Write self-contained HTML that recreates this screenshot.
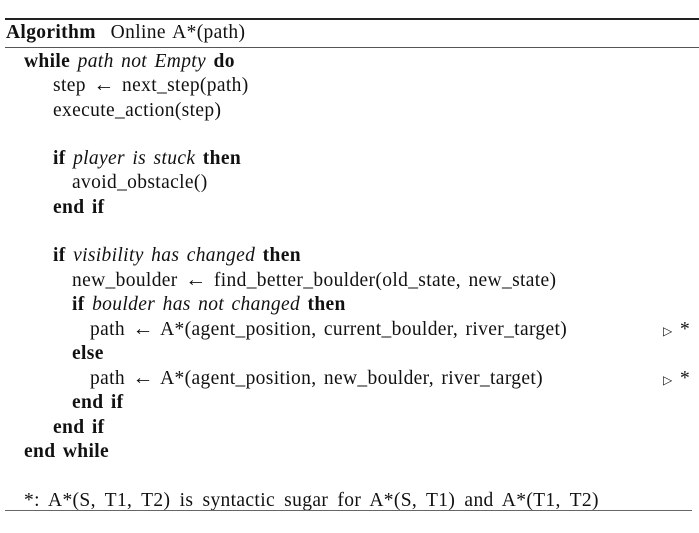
<!DOCTYPE html>
<html><head><meta charset="utf-8"><style>
body{margin:0;background:#fff;width:699px;height:533px;position:relative;overflow:hidden;font-family:"Liberation Serif",serif;font-size:19.5px;letter-spacing:0.35px;word-spacing:2.2px;color:#111}
.l{position:absolute;white-space:nowrap;line-height:20px}
.r{position:absolute;background:#222}
b{font-weight:bold}
.a{font-size:21px;line-height:0;vertical-align:0}
.t{font-size:12px;line-height:0}
</style></head><body>
<div class="r" style="left:5px;top:18px;width:694px;height:2px"></div>
<div class="l" style="left:6px;top:23px"><b>Algorithm</b>&nbsp; Online A*(path)</div>
<div class="r" style="left:5px;top:47px;width:694px;height:1px;background:#555"></div>
<div class="l" style="left:24px;top:52px"><b>while</b> <i>path not Empty</i> <b>do</b></div>
<div class="l" style="left:53px;top:76px">step <span class="a">←</span> next_step(path)</div>
<div class="l" style="left:53px;top:101px">execute_action(step)</div>
<div class="l" style="left:53px;top:149px"><b>if</b> <i>player is stuck</i> <b>then</b></div>
<div class="l" style="left:72px;top:173px">avoid_obstacle()</div>
<div class="l" style="left:53px;top:198px"><b>end if</b></div>
<div class="l" style="left:53px;top:246px"><b>if</b> <i>visibility has changed</i> <b>then</b></div>
<div class="l" style="left:72px;top:271px">new_boulder <span class="a">←</span> find_better_boulder(old_state, new_state)</div>
<div class="l" style="left:72px;top:295px"><b>if</b> <i>boulder has not changed</i> <b>then</b></div>
<div class="l" style="left:90px;top:320px">path <span class="a">←</span> A*(agent_position, current_boulder, river_target)</div>
<div class="l" style="left:663px;top:320px"><span class="t">▷</span> *</div>
<div class="l" style="left:72px;top:344px"><b>else</b></div>
<div class="l" style="left:90px;top:369px">path <span class="a">←</span> A*(agent_position, new_boulder, river_target)</div>
<div class="l" style="left:663px;top:369px"><span class="t">▷</span> *</div>
<div class="l" style="left:72px;top:393px"><b>end if</b></div>
<div class="l" style="left:53px;top:418px"><b>end if</b></div>
<div class="l" style="left:24px;top:442px"><b>end while</b></div>
<div class="l" style="left:24px;top:491px;word-spacing:4px">*: A*(S, T1, T2) is syntactic sugar for A*(S, T1) and A*(T1, T2)</div>
<div class="r" style="left:5px;top:510px;width:687px;height:1px;background:#666"></div>
</body></html>
